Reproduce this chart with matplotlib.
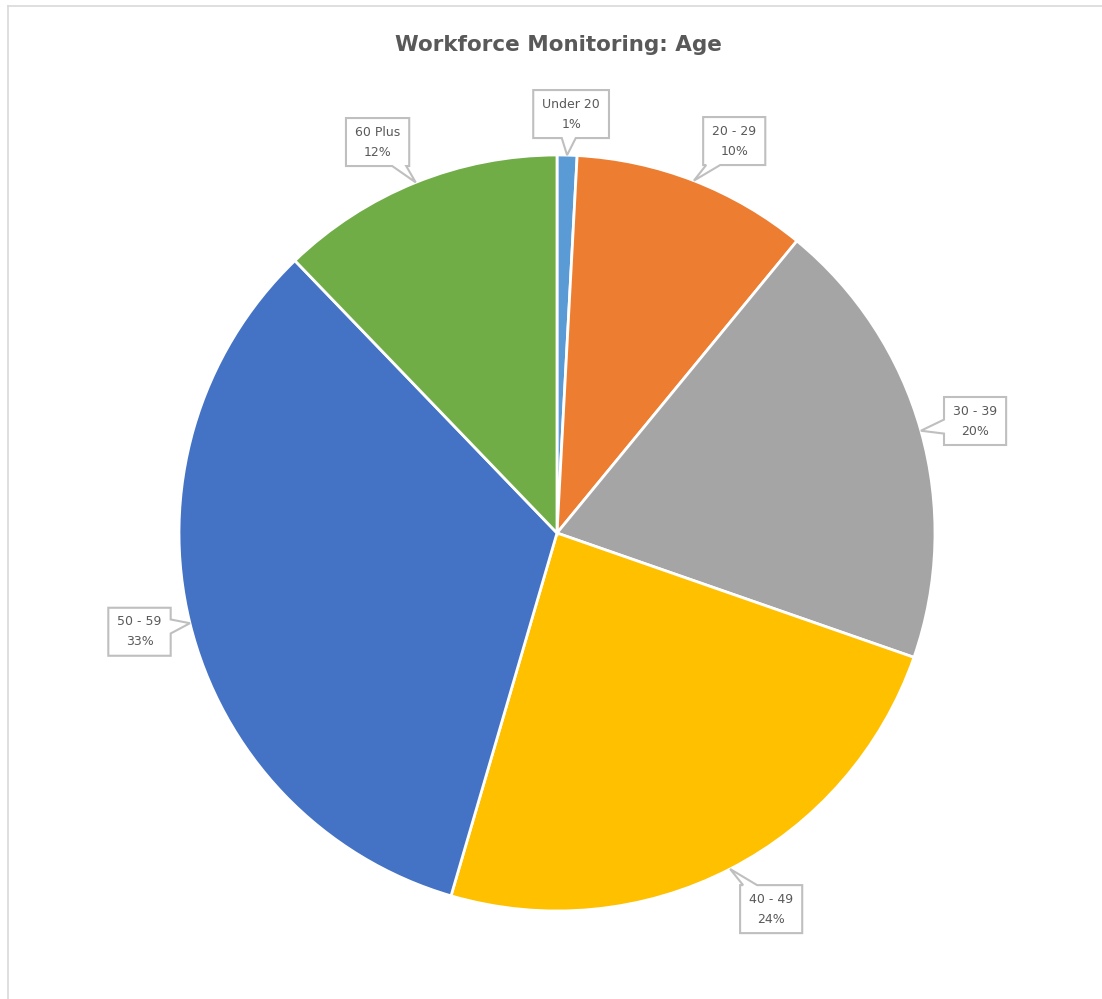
import numpy as np
import matplotlib
matplotlib.use("Agg")
import matplotlib.pyplot as plt
from matplotlib.lines import Line2D
from matplotlib.patches import Polygon

# data
categories = ["Under 20", "20 - 29", "30 - 39", "40 - 49", "50 - 59", "60 Plus"]
shares = [0.85, 10.1, 19.4, 24.2, 33.3, 12.2]
pct_labels = ["1%", "10%", "20%", "24%", "33%", "12%"]
colors = ["#5B9BD5", "#ED7D31", "#A5A5A5", "#FFC000", "#4472C4", "#70AD47"]

W, H = 1102, 999
fig = plt.figure(figsize=(W / 100, H / 100), dpi=100)
fig.patch.set_facecolor("white")

# chart border (only left and top edges are visible in the crop)
fig.add_artist(Line2D([7.5 / W, 7.5 / W], [0, 1 - 5.5 / H], transform=fig.transFigure,
                      color="#D9D9D9", lw=1.2))
fig.add_artist(Line2D([7.5 / W, 1], [1 - 5.5 / H, 1 - 5.5 / H], transform=fig.transFigure,
                      color="#D9D9D9", lw=1.2))

fig.text(558 / W, 1 - 45 / H, "Workforce Monitoring: Age", ha="center", va="center",
         fontsize=15.5, fontweight="bold", color="#595959")

# pie axes: centre ~(557,533), radius ~378 px
cx, cy, r = 557, 533, 378
ax = fig.add_axes([(cx - r) / W, (H - cy - r) / H, 2 * r / W, 2 * r / H])
wedges, _ = ax.pie(shares, colors=colors, startangle=90, counterclock=False,
                   wedgeprops=dict(edgecolor="white", linewidth=2))
ax.set_xlim(-1, 1)
ax.set_ylim(-1, 1)
ax.set_aspect("auto")
ax.axis("off")

# overlay in pixel coordinates (y down) for the callouts
ov = fig.add_axes([0, 0, 1, 1], zorder=5)
ov.set_xlim(0, W)
ov.set_ylim(H, 0)
ov.axis("off")
ov.patch.set_alpha(0)

label_r = [1.109, 1.138, 1.145, 1.145, 1.135, 1.138]
angle_shift = [-0.4, -3.1, -0.7, 2.4, -0.5, 2.7]
renderer = fig.canvas.get_renderer()


def callout(bx, by, hw, hh, tx, ty, base=14):
    dx, dy = tx - bx, ty - by
    tl, tr, br, bl = (bx - hw, by - hh), (bx + hw, by - hh), (bx + hw, by + hh), (bx - hw, by + hh)
    if abs(dx) / hw > abs(dy) / hh:
        yc = by + dy * hw / abs(dx)
        yc = min(max(yc, by - hh + base / 2 + 3), by + hh - base / 2 - 3)
        if dx > 0:
            pts = [tl, tr, (bx + hw, yc - base / 2), (tx, ty), (bx + hw, yc + base / 2), br, bl]
        else:
            pts = [tl, tr, br, bl, (bx - hw, yc + base / 2), (tx, ty), (bx - hw, yc - base / 2)]
    else:
        xc = bx + dx * hh / abs(dy)
        xc = min(max(xc, bx - hw + base / 2 + 3), bx + hw - base / 2 - 3)
        if dy > 0:
            pts = [tl, tr, br, (xc + base / 2, by + hh), (tx, ty), (xc - base / 2, by + hh), bl]
        else:
            pts = [tl, (xc - base / 2, by - hh), (tx, ty), (xc + base / 2, by - hh), tr, br, bl]
    return Polygon(pts, closed=True, fc="white", ec="#BFBFBF", lw=1.5, joinstyle="miter")


for w, cat, pct, lr, sh in zip(wedges, categories, pct_labels, label_r, angle_shift):
    mid = np.deg2rad((w.theta1 + w.theta2) / 2)
    tx, ty = cx + r * np.cos(mid), cy - r * np.sin(mid)
    a2 = mid + np.deg2rad(sh)
    bx, by = cx + lr * r * np.cos(a2), cy - lr * r * np.sin(a2)
    t = ov.text(bx, by, f"{cat}\n{pct}", ha="center", va="center", fontsize=9,
                color="#595959", linespacing=1.7, zorder=7)
    tw = t.get_window_extent(renderer).width
    ov.add_patch(callout(bx, by, tw / 2 + 9, 24, tx, ty))

fig.savefig("out.png", dpi=100)
